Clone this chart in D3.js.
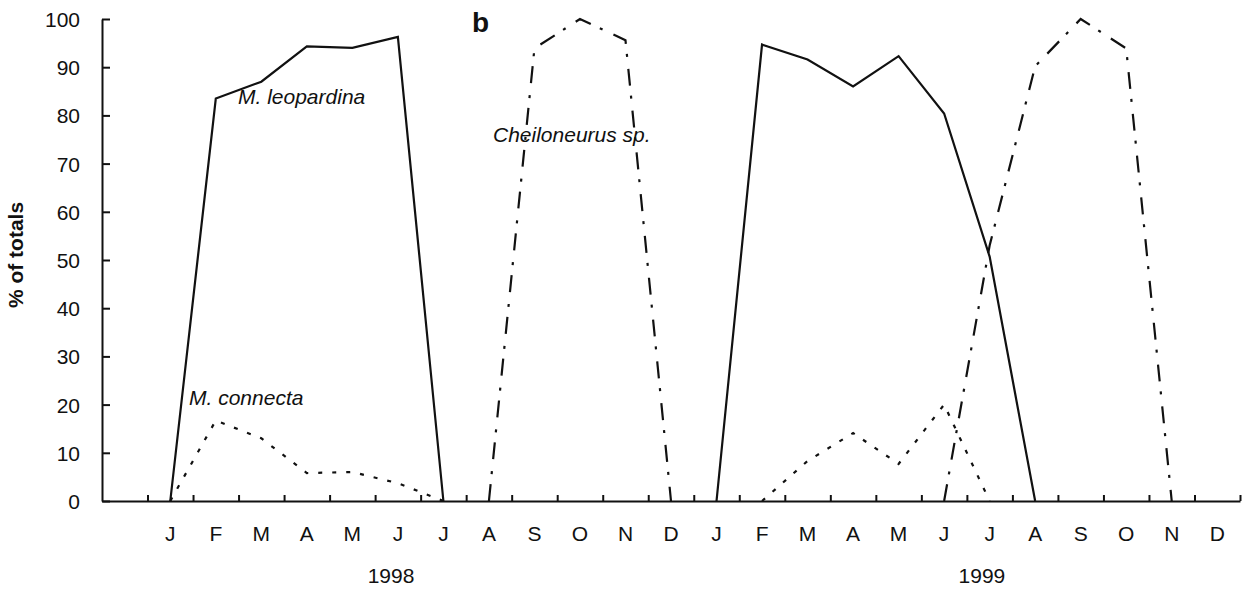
<!DOCTYPE html>
<html>

<head>
  <meta charset="utf-8">
  <title>b - % of totals</title>
  <style>
    * {
      padding: 0;
      margin: 0;
    }

    body {
      background: #fff;
      font-family: Arial, 'Liberation Sans', sans-serif;
    }

    .axis path,
    .axis line {
      stroke: #111;
      stroke-width: 2;
    }

    .axis text {
      font-size: 21px;
      fill: #111;
      font-family: Arial, 'Liberation Sans', sans-serif;
    }

    .series {
      fill: none;
      stroke: #111;
      stroke-width: 2.2;
    }

    .lbl {
      font-size: 21px;
      fill: #111;
    }
  </style>
</head>

<body>
  <svg id="svg"></svg>
  <script src="https://cdnjs.cloudflare.com/ajax/libs/d3/7.8.5/d3.min.js"></script>
  <script>
    // month letters, two seasons
    const months = ['J', 'F', 'M', 'A', 'M', 'J', 'J', 'A', 'S', 'O', 'N', 'D',
      'J', 'F', 'M', 'A', 'M', 'J', 'J', 'A', 'S', 'O', 'N', 'D'];
    const years = ['1998', '1999'];
    const yTicks = [0, 10, 20, 30, 40, 50, 60, 70, 80, 90, 100];

    // % of totals per month (null = not drawn)
    const leopardina = [0, 83.5, 87, 94.3, 94, 96.3, 0, null, null, null, null, null,
      0, 94.7, 91.6, 86, 92.3, 80.4, 50.7, 0, null, null, null, null];
    const connecta = [0, 16.7, 13, 5.8, 6, 3.7, 0, null, null, null, null, null,
      null, 0, 8.3, 14.1, 7.7, 20, 0, null, null, null, null, null];
    const cheiloneurus = [null, null, null, null, null, null, null, 0, 93.9, 100, 95.6, 0,
      null, null, null, null, null, 0, 53, 90.2, 100, 93.9, 0, null];

    const dim = {
      width: 1250,
      height: 593,
      left: 102,
      right: 1240,
      top: 19,
      bottom: 501
    };

    const svg = d3.select('#svg').attr('width', dim.width).attr('height', dim.height);

    // 25 month slots, the first one left empty
    const x = d3.scaleLinear().domain([0, months.length + 1]).range([dim.left, dim.right]);
    const y = d3.scaleLinear().domain([0, 100]).range([dim.bottom, dim.top]);
    const xm = i => x(i + 1.5);

    const yAxis = d3.axisLeft(y).tickValues(yTicks).tickSize(-8).tickSizeOuter(0).tickPadding(22);
    svg.append('g')
      .attr('class', 'axis')
      .attr('transform', `translate(${dim.left},0)`)
      .call(yAxis)
      .call(g => g.selectAll('text').attr('dy', '0.36em'));

    const xAxis = d3.axisBottom(x).tickValues(d3.range(1, months.length + 2)).tickSize(-6)
      .tickSizeOuter(0).tickFormat('');
    svg.append('g')
      .attr('class', 'axis')
      .attr('transform', `translate(0,${dim.bottom})`)
      .call(xAxis);

    svg.selectAll('.month')
      .data(months)
      .enter()
      .append('text')
      .attr('class', 'lbl month')
      .attr('x', (d, i) => xm(i))
      .attr('y', 541)
      .attr('text-anchor', 'middle')
      .text(d => d);

    svg.selectAll('.year')
      .data(years)
      .enter()
      .append('text')
      .attr('class', 'lbl year')
      .attr('x', (d, i) => x(i === 0 ? 6.35 : 19.33))
      .attr('y', 583)
      .attr('text-anchor', 'middle')
      .text(d => d);

    svg.append('text')
      .attr('class', 'lbl')
      .attr('transform', 'translate(23,255) rotate(-90)')
      .attr('text-anchor', 'middle')
      .style('font-weight', 'bold')
      .text('% of totals');

    svg.append('text')
      .attr('x', 472)
      .attr('y', 32)
      .style('font-size', '28px')
      .style('font-weight', 'bold')
      .style('fill', '#111')
      .text('b');

    const line = d3.line()
      .defined(d => d != null)
      .x((d, i) => xm(i))
      .y(d => y(d));

    svg.append('path').datum(connecta).attr('class', 'series')
      .attr('stroke-dasharray', '4,10').attr('d', line);
    svg.append('path').datum(cheiloneurus).attr('class', 'series')
      .attr('stroke-dasharray', '17,10,3,12').attr('d', line);
    svg.append('path').datum(leopardina).attr('class', 'series').attr('d', line);

    const notes = [
      { t: 'M. leopardina', x: 238, y: 104 },
      { t: 'Cheiloneurus sp.', x: 493, y: 142 },
      { t: 'M. connecta', x: 189, y: 405 }
    ];
    svg.selectAll('.note')
      .data(notes)
      .enter()
      .append('text')
      .attr('class', 'lbl note')
      .attr('x', d => d.x)
      .attr('y', d => d.y)
      .style('font-style', 'italic')
      .text(d => d.t);
  </script>
</body>

</html>
